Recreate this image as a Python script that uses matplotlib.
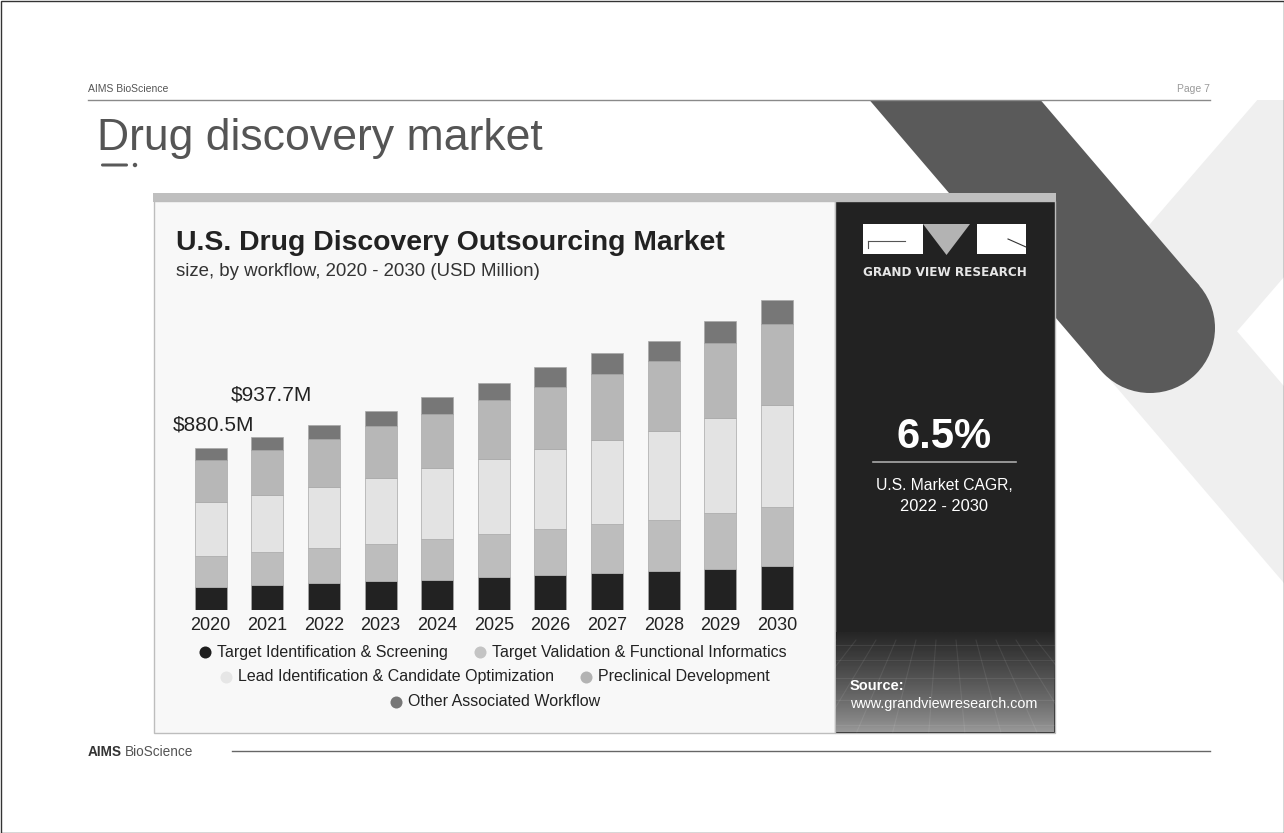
import matplotlib
matplotlib.use('Agg')
import matplotlib.pyplot as plt
from matplotlib import font_manager
from matplotlib.patches import Rectangle, Polygon, Circle, FancyBboxPatch
import numpy as np

W, H = 1284, 833

years = ['2020', '2021', '2022', '2023', '2024', '2025', '2026', '2027', '2028', '2029', '2030']
target_id = [127, 134, 145, 156, 164, 177, 188, 199, 211, 224, 238]
target_val = [167, 178, 193, 202, 221, 235, 253, 267, 276, 300, 320]
lead_opt = [292, 311, 329, 359, 383, 405, 430, 457, 482, 515, 553]
preclinical = [227, 242, 259, 279, 296, 320, 339, 358, 379, 407, 437]
other = [67.5, 72.7, 78, 81, 89, 95, 105, 111, 112, 121, 130]

segments = ['Target Identification & Screening',
            'Target Validation & Functional Informatics',
            'Lead Identification & Candidate Optimization',
            'Preclinical Development',
            'Other Associated Workflow']
bar_colors = ['#222222', '#bdbdbd', '#e3e3e3', '#b7b7b7', '#777777']
dot_colors = ['#1e1e1e', '#c4c4c4', '#e6e6e6', '#b3b3b3', '#777777']
callouts = ['\\$880.5M', '\\$937.7M']

names = {f.name for f in font_manager.fontManager.ttflist}
narrow = 'Liberation Sans Narrow' if 'Liberation Sans Narrow' in names else 'Liberation Sans'

fig = plt.figure(figsize=(W / 100, H / 100), dpi=100)
fig.patch.set_facecolor('white')


def px_axes(x0, y0, x1, y1, z=1):
    return fig.add_axes([x0 / W, 1 - y1 / H, (x1 - x0) / W, (y1 - y0) / H], zorder=z)


def fit(t, width):
    r = fig.canvas.get_renderer()
    bb = t.get_window_extent(r)
    t.set_fontsize(t.get_fontsize() * width / bb.width)
    return t


# page layer in pixel coordinates
bg = px_axes(0, 0, W, H, z=0)
bg.set_xlim(0, W)
bg.set_ylim(H, 0)
bg.axis('off')

# decorative X shape on the right
clip = Rectangle((0, 100), W, H, transform=bg.transData)
d = np.array([0.65, 0.76])
n = np.array([0.76, -0.65])
c0 = np.array([955, 100]) - 200 * d
c1 = np.array([1150, 328])
far = c1 + 600 * d
light = Polygon([c0 + 64 * n, far + 64 * n, far - 64 * n, c0 - 64 * n], color='#efefef', lw=0)
d2 = np.array([-0.65, 0.76])
n2 = np.array([0.76, 0.65])
a0 = np.array([1243, 223]) - 300 * d2
a1 = c1
arm = Polygon([a0 + 68 * n2, a1 + 68 * n2, a1 - 68 * n2, a0 - 68 * n2], color='#efefef', lw=0)
dark = Polygon([c0 + 65 * n, c1 + 65 * n, c1 - 65 * n, c0 - 65 * n], color='#5a5a5a', lw=0)
cap = Circle(c1, 65, color='#5a5a5a', lw=0)
for p in [light, arm, dark, cap]:
    bg.add_patch(p)
    p.set_clip_path(clip)

# page frame, header and footer
bg.add_patch(Rectangle((0.5, 0.5), W - 1, H - 1, fill=False, ec='#333333', lw=1))
bg.plot([88, 1210], [100, 100], color='#8a8a8a', lw=1)
bg.text(88, 92, 'AIMS BioScience', fontsize=7.5, color='#555555', family=narrow, va='baseline')
bg.text(1210, 92, 'Page 7', fontsize=7.5, color='#9a9a9a', family=narrow, va='baseline', ha='right')
title = bg.text(97, 150, 'Drug discovery market', fontsize=36, color='#555555', family=narrow,
                va='baseline')
fit(title, 447)
bg.add_patch(FancyBboxPatch((101, 163.5), 27, 3, boxstyle='round,pad=0,rounding_size=1.5',
                            color='#595959', lw=0))
bg.add_patch(Circle((135, 165), 2.2, color='#595959', lw=0))
aims = fit(bg.text(88, 756, 'AIMS', fontsize=10, weight='bold', color='#333333', family=narrow,
                   va='baseline'), 34)
bb = aims.get_window_extent(fig.canvas.get_renderer())
bg.text(88 + bb.width + 3, 756, 'BioScience', fontsize=aims.get_fontsize(), color='#555555',
        family=narrow, va='baseline')
bg.plot([232, 1210], [751, 751], color='#666666', lw=1)

# chart picture: frame, light area and dark panel
panel = px_axes(0, 0, W, H, z=2)
panel.add_patch(Rectangle((153, 193), 903, 9, color='#bfbfbf', lw=0))
panel.add_patch(Rectangle((154, 201), 681, 532, fc='#f8f8f8', ec='#bdbdbd', lw=1))
panel.add_patch(Rectangle((835, 201), 220, 532, fc='#222222', ec='#bdbdbd', lw=1))
grad = np.linspace(0, 1, 100)[:, None] ** 0.8
cm = matplotlib.colors.LinearSegmentedColormap.from_list('g', ['#9a9a9a', '#262626'])
panel.imshow(grad, extent=(836, 1054, 732, 632), origin='lower', cmap=cm, aspect='auto', zorder=2)
for k in range(12):
    xb = 836 + k * 20
    panel.plot([xb, 945 + (xb - 945) * 1.8], [640, 732], color='#ffffff', alpha=0.08, lw=0.8, zorder=3)
for yy in [645, 660, 678, 700, 725]:
    panel.plot([836, 1054], [yy, yy], color='#ffffff', alpha=0.08, lw=0.8, zorder=3)
panel.set_xlim(0, W)
panel.set_ylim(H, 0)
panel.axis('off')

fit(panel.text(176, 250, 'U.S. Drug Discovery Outsourcing Market', fontsize=20, weight='bold',
               color='#222222', family=narrow, va='baseline'), 548)
fit(panel.text(176, 276, 'size, by workflow, 2020 - 2030 (USD Million)', fontsize=12,
               color='#333333', family=narrow, va='baseline'), 366)

# GVR logo
panel.add_patch(Rectangle((863, 224), 60, 30, color='white', lw=0))
panel.add_patch(Polygon([(923, 224), (970, 224), (946.5, 255)], color='#b3b3b3', lw=0))
panel.add_patch(Rectangle((977, 224), 49, 30, color='white', lw=0))
panel.plot([868, 905], [241, 241], color='#555555', lw=0.8)
panel.plot([868, 868], [241, 248], color='#555555', lw=0.8)
panel.plot([1008, 1026], [239, 247], color='#333333', lw=0.8)
fit(panel.text(944.5, 272, 'GRAND VIEW RESEARCH', fontsize=8, weight='bold', color='#e6e6e6',
               ha='center', va='center', family='DejaVu Sans'), 163)
fit(panel.text(944, 448, '6.5%', fontsize=30, weight='bold', color='white', ha='center',
               va='baseline', family='Liberation Sans'), 95)
panel.plot([873, 1016], [462, 462], color='#aaaaaa', lw=1.2)
fit(panel.text(944.5, 490, 'U.S. Market CAGR,', fontsize=12, color='white', ha='center',
               va='baseline', family=narrow), 137)
fit(panel.text(944.5, 511, '2022 - 2030', fontsize=12, color='white', ha='center',
               va='baseline', family=narrow), 88)
panel.text(850, 690, 'Source:', fontsize=10.5, weight='bold', color='white', va='baseline',
           family=narrow, zorder=4)
fit(panel.text(850, 708, 'www.grandviewresearch.com', fontsize=10.5, color='white',
               va='baseline', family=narrow, zorder=4), 188)

# legend, three centred rows
rows = [[0, 1], [2, 3], [4]]
row_y = [652, 677, 702]
starts = [[205, 480], [226, 586], [396]]
for r, idxs in enumerate(rows):
    for j, i in enumerate(idxs):
        x0 = starts[r][j]
        panel.scatter([x0], [row_y[r]], s=75, color=dot_colors[i], zorder=4, lw=0)
        panel.text(x0 + 12, row_y[r], segments[i], fontsize=11.5, color='#222222',
                   va='center', family=narrow)

# stacked bars
ax = px_axes(182.4, 290, 805.3, 610, z=3)
ax.patch.set_alpha(0)
x = np.arange(len(years))
bottom = np.zeros(len(years))
for vals, col in zip([target_id, target_val, lead_opt, preclinical, other], bar_colors):
    ax.bar(x, vals, 0.565, bottom=bottom, color=col, edgecolor='#a8a8a8', lw=0.5)
    bottom += np.array(vals)
ax.set_xlim(-0.5, 10.5)
ax.set_ylim(0, 1734)
ax.set_xticks(x, years, fontsize=13, color='#222222', family=narrow)
ax.tick_params(axis='x', length=0, pad=5)
ax.set_yticks([])
for s in ax.spines.values():
    s.set_visible(False)

ax.annotate(callouts[0], (0, bottom[0]), xytext=(-38, 23), textcoords='offset pixels',
            fontsize=15, color='#222222', family=narrow, va='center', ha='left')
ax.annotate(callouts[1], (1, bottom[1]), xytext=(-37, 42), textcoords='offset pixels',
            fontsize=15, color='#222222', family=narrow, va='center', ha='left')

fig.savefig('out.png', dpi=100, facecolor='white')
